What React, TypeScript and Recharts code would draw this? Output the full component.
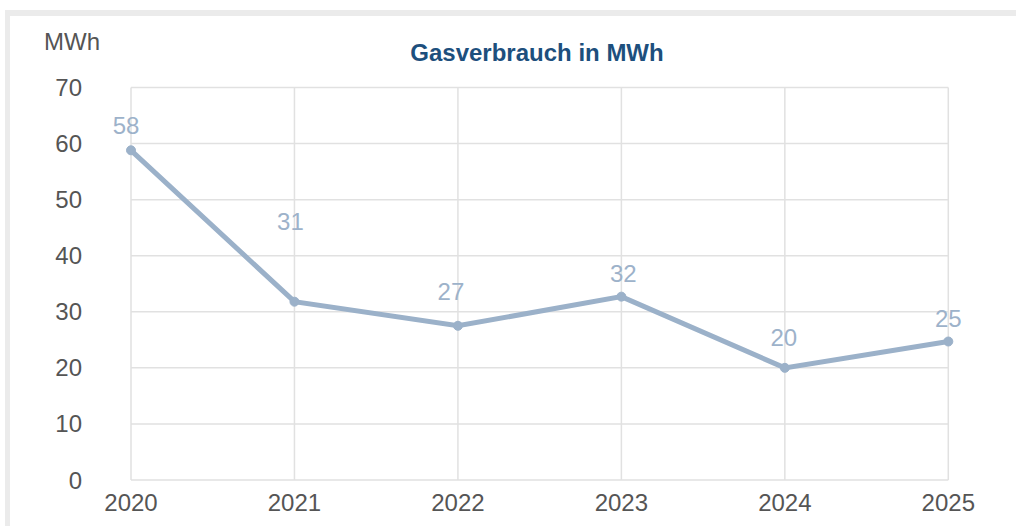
import React from 'react';
import { LineChart, Line, XAxis, YAxis, CartesianGrid, LabelList } from 'recharts';

const years = ['2020', '2021', '2022', '2023', '2024', '2025'];
const consumption = [58.8, 31.8, 27.5, 32.7, 20.0, 24.7];
const valueLabels = ['58', '31', '27', '32', '20', '25'];
const yTicks = [0, 10, 20, 30, 40, 50, 60, 70];

// how far each value label sits from its point (the source nudged some away from the line)
const labelLift = [25, 80, 34, 23, 30, 23];
const labelShift = [-5, -4, -7, 2, -1, 0];

const FONT = '"Liberation Sans", Arial, Helvetica, sans-serif';
const LINE_COLOR = '#9bb1c9';

const data = years.map((year, i) => ({ year, value: consumption[i], label: valueLabels[i] }));

const ValueLabel = (props: any) => {
    const { x, y, index, value } = props;
    return (
        <text
            x={x + labelShift[index]}
            y={y - labelLift[index]}
            fill="#9db2ca"
            fontSize={24}
            fontFamily={FONT}
            textAnchor="middle"
            dominantBaseline="central"
        >
            {value}
        </text>
    );
};

export default function App() {
    return (
        <div style={{ position: 'absolute', left: 0, top: 0, width: 1016, height: 526, overflow: 'hidden', background: '#fff' }}>
            <div
                style={{
                    position: 'absolute',
                    left: 5,
                    top: 10,
                    width: 1100,
                    height: 600,
                    borderLeft: '5px solid #ebebeb',
                    borderTop: '6px solid #ebebeb',
                    boxSizing: 'border-box',
                }}
            />
            <div style={{ position: 'absolute', left: 44, top: 30, fontFamily: FONT, fontSize: 24, lineHeight: '24px', color: '#555' }}>
                MWh
            </div>
            <div
                style={{
                    position: 'absolute',
                    left: 128,
                    width: 818,
                    top: 40.5,
                    textAlign: 'center',
                    fontFamily: FONT,
                    fontSize: 24,
                    fontWeight: 'bold',
                    lineHeight: '24px',
                    color: '#1d4f7d',
                }}
            >
                Gasverbrauch in MWh
            </div>
            <div style={{ position: 'absolute', left: 0, top: 0 }}>
                <LineChart width={1016} height={526} data={data} margin={{ top: 87.5, right: 67.7, bottom: 6, left: 51 }}>
                    <CartesianGrid stroke="#e1e1e1" strokeWidth={1.5} />
                    <XAxis
                        dataKey="year"
                        axisLine={false}
                        tickLine={false}
                        tickSize={0}
                        tickMargin={14}
                        height={40}
                        interval={0}
                        tick={{ fill: '#555', fontSize: 24, fontFamily: FONT }}
                    />
                    <YAxis
                        domain={[0, 70]}
                        ticks={yTicks}
                        width={80}
                        axisLine={false}
                        tickLine={false}
                        tickSize={0}
                        tickMargin={49}
                        tick={{ fill: '#555', fontSize: 24, fontFamily: FONT }}
                    />
                    <Line
                        type="linear"
                        dataKey="value"
                        stroke={LINE_COLOR}
                        strokeWidth={5}
                        dot={{ r: 4.5, fill: LINE_COLOR, stroke: LINE_COLOR, strokeWidth: 1 }}
                        activeDot={false}
                        isAnimationActive={false}
                    >
                        <LabelList dataKey="label" content={<ValueLabel />} />
                    </Line>
                </LineChart>
            </div>
        </div>
    );
}
